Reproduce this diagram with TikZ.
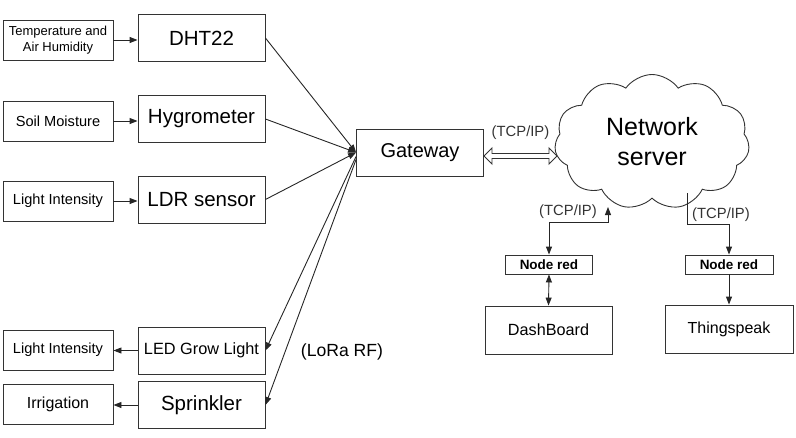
\documentclass[tikz,border=0pt]{standalone}
\usepackage{fontspec}
\setmainfont{Liberation Sans}
\usepackage{tikz}
\usetikzlibrary{arrows.meta}
\usetikzlibrary{calc}
\usetikzlibrary{shapes.symbols}

\tikzset{
  unit/.style={draw=black!80, line width=0.9pt, minimum width=127pt, minimum height=47pt, inner sep=0pt, font=\fontsize{20.5}{24}\selectfont},
  quantity/.style={draw=black!80, line width=0.9pt, minimum width=110pt, minimum height=40pt, inner sep=0pt, align=center, font=\fontsize{14.6}{16}\selectfont},
  tool/.style={draw=black!80, line width=0.9pt, minimum height=19pt, inner sep=0pt, font=\bfseries\fontsize{13.5}{15}\selectfont},
  proto/.style={text=black!80, inner sep=0pt, font=\fontsize{14.8}{16}\selectfont},
  pipe/.style={draw=black!80, line width=0.9pt, line join=miter},
  link/.style={line width=0.9pt, draw=black!85, -{Triangle[length=8pt,width=6pt]}},
  both/.style={link, {Triangle[length=8pt,width=6pt]}-{Triangle[length=8pt,width=6pt]}}
}

\begin{document}
\begin{tikzpicture}[x=1pt, y=-1pt]
        \useasboundingbox (0, 0) rectangle (796, 437);

        % measured quantities and sensors
        \node[quantity, font=\fontsize{13}{16}\selectfont] (temp) at (58,  40) {Temperature and\\Air Humidity};
        \node[quantity]                          (soil)  at (58, 121) {Soil Moisture};
        \node[quantity]                          (lux)   at (58, 201) {Light Intensity};
        \node[unit]                              (dht)   at (201.5,  38) {DHT22};
        \node[unit]                              (hygro) at (201.5, 119) {Hygrometer};
        \node[unit]                              (ldr)   at (201.5, 199.5) {LDR sensor};

        % actuators
        \node[quantity]                          (grow)  at (58, 350) {Light Intensity};
        \node[quantity, font=\fontsize{16}{18}\selectfont] (irr) at (58, 404) {Irrigation};
        \node[unit, font=\fontsize{16.3}{18}\selectfont]    (led) at (201.5, 350.5) {LED Grow Light};
        \node[unit]                              (spr)   at (201.5, 405) {Sprinkler};

        \node[unit, font=\fontsize{20}{24}\selectfont] (gw) at (420, 152.5) {Gateway};
        \node[cloud, draw=black!80, line width=0.9pt, cloud puffs=11, cloud puff arc=110, aspect=1.45,
              minimum width=195pt, minimum height=135pt, inner sep=0pt, align=center,
              font=\fontsize{25}{30}\selectfont] (ns) at (652, 142) {Network\\server};

        % applications
        \node[tool, minimum width=87pt]              (red1)  at (549, 264.5) {Node red};
        \node[tool, minimum width=88pt]              (red2)  at (729, 264.5) {Node red};
        \node[unit, minimum height=48pt, font=\fontsize{16.2}{18}\selectfont] (dash)  at (548.5, 330) {DashBoard};
        \node[unit, minimum width=128pt, minimum height=48pt, font=\fontsize{16}{18}\selectfont] (speak) at (729, 329) {Thingspeak};

        \draw[link] (temp.east)  -- (temp.east -| dht.west);
        \draw[link] (soil.east)  -- (soil.east -| hygro.west);
        \draw[link] (lux.east)   -- (lux.east -| ldr.west);
        \draw[link] (led.west)   -- (led.west -| grow.east);
        \draw[link] (spr.west)   -- (spr.west -| irr.east);

        \draw[link] (dht.east)   -- (gw.west);
        \draw[link] (hygro.east) -- (gw.west);
        \draw[link] (ldr.east)   -- (gw.west);
        \draw[link] ($(gw.west)+(0, 4)$) -- (led.east);
        \draw[link] ($(gw.west)+(0, 7)$) -- (spr.east);
        \node[proto, text=black, font=\fontsize{17.6}{20}\selectfont] (lora) at (342, 352) {(LoRa RF)};

        % hollow two way arrow gateway <-> server
        \draw[pipe] ($(gw.east)+(0, 3.5)$) coordinate (tcp) -- ++(8, -8) -- ++(0, 5.5) -- ++(57, 0) -- ++(0, -5.5)
                    -- ++(8, 8) -- ++(-8, 8) -- ++(0, -5.5) -- ++(-57, 0) -- ++(0, 5.5) -- cycle;
        \node[proto] (tcp0) at (520.5, 133) {(TCP/IP)};

        \coordinate (up1) at (608, 207);
        \coordinate (dn2) at (687, 193);
        \draw[both] (up1) |- ($(red1.north)+(0, -32)$) -- (red1.north);
        \draw[link] (dn2) |- ($(red2.north)+(0, -30)$) -- (red2.north);
        \node[proto] (tcp1) at (568, 212) {(TCP/IP)};
        \node[proto] (tcp2) at (721, 215) {(TCP/IP)};

        \draw[both] (red1.south) -- (dash.north);
        \draw[link] (red2.south) -- (speak.north);
    \end{tikzpicture}
\end{document}
